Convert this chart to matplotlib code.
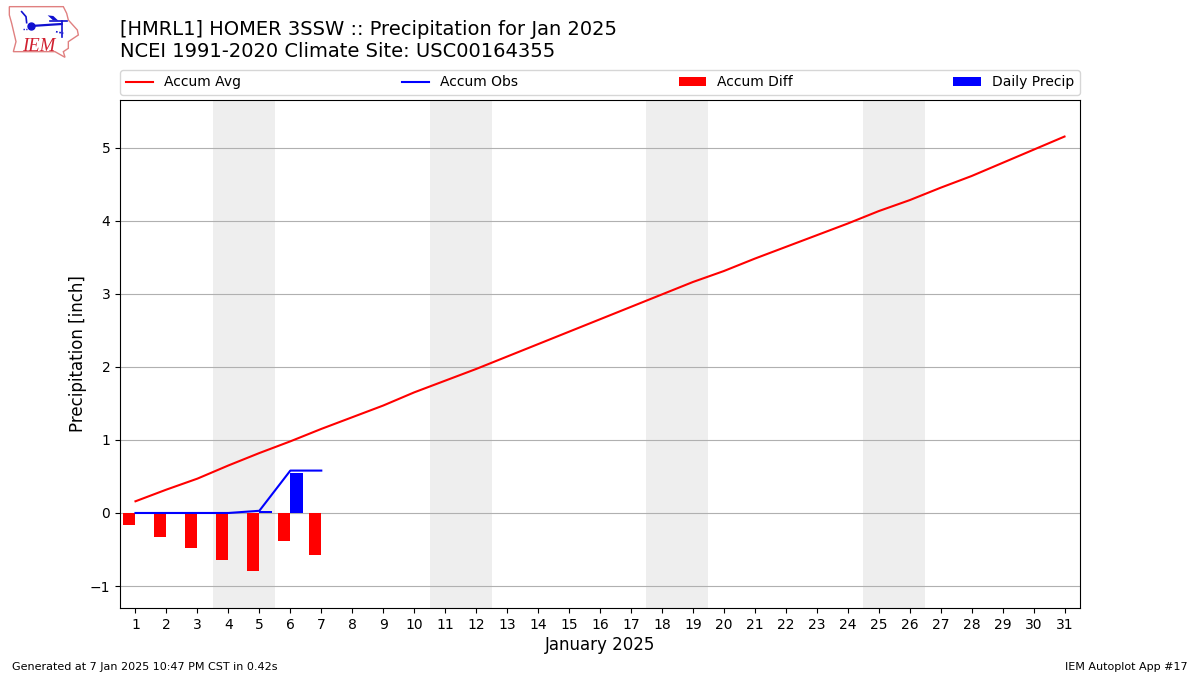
import numpy as np
from matplotlib import pyplot as plt
from matplotlib.patches import Polygon

days = np.arange(1, 32)
accum_avg = [0.16, 0.32, 0.47, 0.65, 0.82, 0.98, 1.15, 1.31, 1.47, 1.65, 1.81,
             1.97, 2.14, 2.31, 2.48, 2.65, 2.82, 2.99, 3.16, 3.31, 3.48, 3.64,
             3.80, 3.96, 4.13, 4.28, 4.45, 4.61, 4.79, 4.97, 5.15]
obs_days = np.arange(1, 8)
accum_obs = [0, 0, 0, 0, 0.03, 0.58, 0.58]
accum_diff = [-0.16, -0.33, -0.48, -0.65, -0.79, -0.39, -0.57]
daily_precip = [0, 0, 0, 0, 0.03, 0.55, 0]
weekends = [4, 11, 18, 25]

fig = plt.figure(figsize=(12, 6.75), dpi=100)
ax = fig.add_axes([0.1, 1 - 608 / 675, 0.8, 508 / 675])

for d in weekends:
    ax.axvspan(d - 0.5, d + 1.5, color='#eeeeee', lw=0, zorder=0)
ax.grid(axis='y', color='#b0b0b0', lw=0.8, zorder=1)
ax.set_axisbelow(True)

ax.plot(days, accum_avg, color='r', lw=1.5, label='Accum Avg', zorder=3)
ax.plot(obs_days, accum_obs, color='b', lw=1.5, label='Accum Obs', zorder=3)
ax.bar(obs_days, accum_diff, width=-0.4, align='edge', color='r', label='Accum Diff', zorder=2)
ax.bar(obs_days, daily_precip, width=0.4, align='edge', color='b', label='Daily Precip', zorder=2)

ax.set_xlim(0.5, 31.5)
ax.set_ylim(-1.3, 5.65)
ax.set_xticks(days)
ax.tick_params(labelsize=10)
ax.set_xlabel('January 2025', fontsize=12, labelpad=3)
ax.set_ylabel('Precipitation [inch]', fontsize=12, labelpad=2)
ax.legend(loc='lower left', bbox_to_anchor=(0, 1.0098, 1, 0.05), mode='expand',
          ncol=4, borderaxespad=0, fontsize=10)

fig.text(0.1, 1 - 35 / 675, '[HMRL1] HOMER 3SSW :: Precipitation for Jan 2025', fontsize=14, va='baseline')
fig.text(0.1, 1 - 57 / 675, 'NCEI 1991-2020 Climate Site: USC00164355', fontsize=14, va='baseline')
fig.text(12 / 1200, 1 - 670 / 675, 'Generated at 7 Jan 2025 10:47 PM CST in 0.42s', fontsize=8, va='baseline')
fig.text(1188 / 1200, 1 - 670 / 675, 'IEM Autoplot App #17', fontsize=8, ha='right', va='baseline')

# logo, drawn in the coordinates of a 3x crop of the top left corner
logo = fig.add_axes([0, 1 - 70 / 675, 0.1, 70 / 675])
logo.set_xlim(0, 360)
logo.set_ylim(210, 0)
logo.axis('off')
outline = [(28, 20), (190, 20), (200, 40), (205, 60), (232, 90), (235, 105), (205, 125),
           (205, 145), (190, 155), (195, 172), (165, 155), (40, 155), (48, 125), (35, 70), (28, 45)]
logo.add_patch(Polygon(outline, closed=True, fill=False, ec='#e08080', lw=1))
logo.plot([93, 185], [78, 72], color='#1010d0', lw=1.6)
logo.plot(93, 78, 'o', color='#1010d0', ms=5)
logo.plot([65, 78, 80], [35, 50, 68], color='#1010d0', lw=1.2)
logo.plot([185, 185], [62, 112], color='#1010d0', lw=1.2)
logo.plot([150, 200], [62, 62], color='#1010d0', lw=1.2)
logo.add_patch(Polygon([(143, 46), (160, 48), (175, 62), (158, 60)], closed=True, color='#1010d0', lw=0))
logo.plot([70, 80], [87, 87], color='#1010d0', lw=1, ls=(0, (1, 1)))
logo.plot([168, 190], [95, 100], color='#1010d0', lw=1.2, ls=(0, (1, 1)))
logo.text(66, 154, 'IEM', family='Liberation Serif', style='italic', color='#d02030', fontsize=13.5, va='baseline')

plt.savefig('out.png', dpi=100)
